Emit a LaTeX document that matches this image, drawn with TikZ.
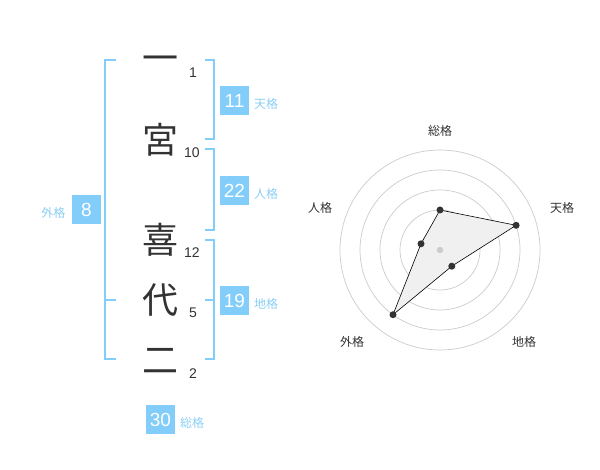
\documentclass[tikz,border=0pt]{standalone}
\usepackage{fontspec}
\newfontfamily\cjk{Noto Sans CJK JP}
\newfontfamily\num{Liberation Sans}
\definecolor{blu}{HTML}{82CDFA}
\definecolor{lblu}{HTML}{8CCFF5}
\definecolor{ink}{HTML}{333333}
\definecolor{ringc}{HTML}{CCCCCC}
\definecolor{polyf}{HTML}{F0F0F0}
\begin{document}
\begin{tikzpicture}[x=1pt,y=-1pt,
  kanji/.style={font=\cjk\fontsize{36}{36}\selectfont, text=ink, inner sep=0pt, text height=0.88em, text depth=0.12em},
  strk/.style={font=\num\fontsize{14}{14}\selectfont, text=ink, inner sep=0pt},
  numbox/.style={fill=blu, text=white, minimum size=29pt, inner sep=0pt, font=\num\fontsize{19}{19}\selectfont},
  lab/.style={font=\cjk\fontsize{12}{12}\selectfont, text=lblu, inner sep=0pt},
  brk/.style={draw=blu, line width=2pt},
  ring/.style={draw=ringc, line width=0.7pt},
  rlab/.style={font=\cjk\fontsize{12}{12}\selectfont, text=ink, inner sep=0pt},
  pt/.style={circle, fill=ink, inner sep=0pt, minimum size=7pt}]
\useasboundingbox (0,0) rectangle (600,470);
\fill[white] (0,0) rectangle (600,470);
% characters
\node[kanji] (k1) at (160,68) {一};
\node[kanji] (k2) at (160,150) {宮};
\node[kanji] (k3) at (160,250) {喜};
\node[kanji] (k4) at (160,310) {代};
\node[kanji] (k5) at (160,370) {二};
% stroke numbers
\node[strk] (s1) at (193,73) {1};
\node[strk] (s2) at (192,153) {10};
\node[strk] (s3) at (192,253) {12};
\node[strk] (s4) at (193,313) {5};
\node[strk] (s5) at (193,374) {2};
% brackets
\draw[brk] (116,60) -- (105,60) -- (105,359) -- (116,359);
\draw[brk] (105,300) -- (116,300);
\draw[brk] (205,60) -- (214,60) -- (214,139) -- (205,139);
\draw[brk] (205,149) -- (214,149) -- (214,230) -- (205,230);
\draw[brk] (205,240) -- (214,240) -- (214,359) -- (205,359);
\draw[brk] (205,300) -- (214,300);
% boxes and labels
\node[numbox] (b1) at (234.5,100.5) {11};
\node[lab] (l1) at (266,104) {天格};
\node[numbox] (b2) at (234.5,190.5) {22};
\node[lab] (l2) at (266,194) {人格};
\node[numbox] (b3) at (234.5,300.5) {19};
\node[lab] (l3) at (266,304) {地格};
\node[numbox] (b4) at (86.5,210) {8};
\node[lab] (l4) at (53.5,213) {外格};
\node[numbox] (b5) at (160.5,419.5) {30};
\node[lab] (l5) at (192,423) {総格};
% radar
\coordinate (c) at (440,250);
\foreach \r in {20,40,60,80,100} \draw[ring] (c) circle[radius=\r];
\coordinate (p1) at (440,210);
\coordinate (p2) at (516.1,225.3);
\coordinate (p3) at (451.8,266.2);
\coordinate (p4) at (393.0,314.7);
\coordinate (p5) at (421.0,243.8);
\filldraw[fill=polyf, draw=black, line width=0.6pt] (p1) -- (p2) -- (p3) -- (p4) -- (p5) -- cycle;
\fill[ringc] (c) circle[radius=3.2];
\foreach \p in {p1,p2,p3,p4,p5} \node[pt] at (\p) {};
\node[rlab] (r1) at (440,131) {総格};
\node[rlab] (r2) at (562,208) {天格};
\node[rlab] (r3) at (524,342) {地格};
\node[rlab] (r4) at (352,342) {外格};
\node[rlab] (r5) at (320,208) {人格};
\end{tikzpicture}
\end{document}
